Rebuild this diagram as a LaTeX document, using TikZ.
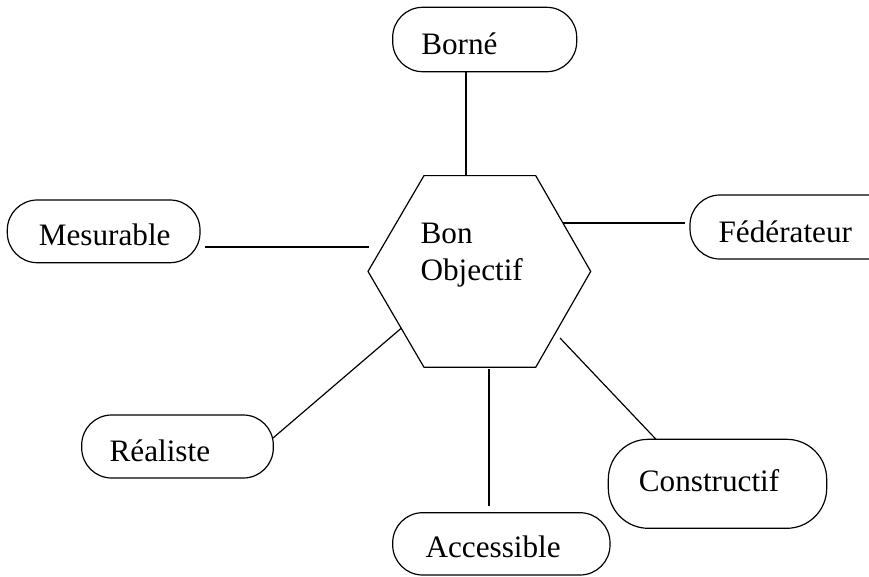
\documentclass[tikz,border=0pt]{standalone}
\usepackage{fontspec}
\setmainfont{Liberation Serif}
\begin{document}
\begin{tikzpicture}[x=1pt,y=-1pt,line width=1.2pt,
  pill/.style={draw,rectangle,rounded corners=30pt,inner sep=0pt,outer sep=0pt},
  lbl/.style={anchor=base west,inner sep=0pt,font=\fontsize{31.2}{38.5}\selectfont}]
\useasboundingbox (0,0) rectangle (869,576);
\clip (0,0) rectangle (869,576);
% hexagon
\coordinate (h1) at (424,175.6);
\coordinate (h2) at (535.7,175.6);
\coordinate (h3) at (590.7,271.4);
\coordinate (h4) at (535.7,367.3);
\coordinate (h5) at (424,367.3);
\coordinate (h6) at (368,271.4);
\draw[line join=miter] (h1) -- (h2) -- (h3) -- (h4) -- (h5) -- (h6) -- cycle;
\node[lbl] (bon) at (420,243.3) {Bon};
\node[lbl] (obj) at (420,280.7) {Objectif};
% boxes
\node[pill,minimum width=184pt,minimum height=64.4pt] (borne) at (484.7,39.5) {};
\node[lbl] (tborne) at (420.7,54.3) {Borné};
\node[pill,minimum width=192.7pt,minimum height=62.7pt] (mesur) at (103.65,231.35) {};
\node[lbl] (tmesur) at (38.3,245) {Mesurable};
\node[pill,minimum width=210pt,minimum height=64pt] (feder) at (795,227) {};
\node[lbl] (tfeder) at (718,242.3) {Fédérateur};
\node[pill,minimum width=191.6pt,minimum height=63pt] (real) at (177.5,446.5) {};
\node[lbl] (treal) at (109,461.7) {Réaliste};
\node[pill,rounded corners=40pt,minimum width=218.4pt,minimum height=89pt] (constr) at (717.5,483.8) {};
\node[lbl] (tconstr) at (638.3,491.7) {Constructif};
\node[pill,minimum width=217.3pt,minimum height=62.3pt] (access) at (501.35,543.85) {};
\node[lbl] (taccess) at (425,557.3) {Accessible};
% connector ends
\coordinate (cb) at (466,175.6);
\coordinate (cm1) at (205,247);
\coordinate (cm2) at (369,247);
\coordinate (cf1) at (562.9,223);
\coordinate (cf2) at (685,223);
\coordinate (cr1) at (273,438);
\coordinate (cr2) at (401.5,328);
\coordinate (cc1) at (560,338);
\coordinate (cc2) at (656,439.3);
\coordinate (ca1) at (489,369);
\coordinate (ca2) at (489,506);
% connectors
\draw (borne.south -| cb) -- (cb);
\draw (cm1) -- (cm2);
\draw (cf1) -- (cf2);
\draw (cr1) -- (cr2);
\draw (cc1) -- (cc2);
\draw (ca1) -- (ca2);
\end{tikzpicture}
\end{document}
